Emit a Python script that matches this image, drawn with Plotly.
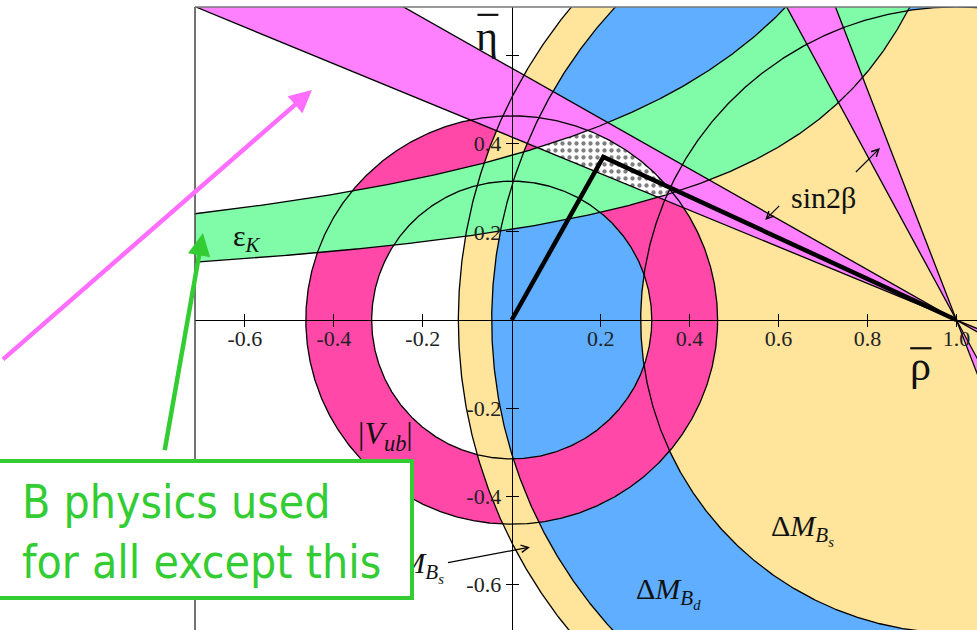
import numpy as np
import plotly.graph_objects as go

# ---- axis ticks -------------------------------------------------------------
rho_ticks = [-0.6, -0.4, -0.2, 0.2, 0.4, 0.6, 0.8, 1.0]
rho_labels = ["-0.6", "-0.4", "-0.2", "0.2", "0.4", "0.6", "0.8", "1.0"]
eta_ticks = [-0.6, -0.4, -0.2, 0.2, 0.4, 0.6]
eta_labels = ["-0.6", "-0.4", "-0.2", "0.2", "0.4", ""]

# ---- constraint bands in the (rho, eta) plane --------------------------------
vub_radii = [0.315, 0.463]        # |Vub/Vcb| ring around (0, 0)
dmd_radii = [0.71, 1.045]         # Delta M_Bd ring around (1, 0)
dms_radius = [1.12]               # Delta M_Bs bound around (1, 0)
epsk_c = [0.259, 0.485]           # epsilon_K hyperbolae: eta = c / (d - rho)
epsk_d = [1.26, 1.30]
sin2b_slopes = [0.415, 0.571]     # beta solution: eta = s * (1 - rho)
sin2b_alt_slopes = [1.86, 2.61]   # pi/2 - beta solution
apex = [0.206, 0.370]             # fitted triangle apex

# ---- colours -----------------------------------------------------------------
C_YELLOW = "#FFE49C"
C_BLUE = "#5FAEFF"
C_PINK = "#FF48A8"
C_GREEN = "#80FCA8"
C_MAGENTA = "#FF80FF"
C_ANNOT = "rgb(51,204,51)"

X0, X1 = -0.7122, 1.0463
Y0, Y1 = -0.7029, 0.7098
SERIF = "Liberation Serif, Times New Roman, serif"


def circle(cx, r, n=1441):
    t = np.linspace(0.0, 2.0 * np.pi, n)
    return cx + r * np.cos(t), r * np.sin(t)


def ring(cx, r_in, r_out):
    xo, yo = circle(cx, r_out)
    xi, yi = circle(cx, r_in)
    return np.r_[xo, xi[::-1]], np.r_[yo, yi[::-1]]


def fill(x, y, color, **kw):
    return go.Scatter(x=x, y=y, mode="lines", fill="toself", fillcolor=color,
                      line=dict(width=0, color=color), hoverinfo="skip", **kw)


def outline(x, y, width=1.3):
    return go.Scatter(x=x, y=y, mode="lines", line=dict(color="black", width=width),
                      hoverinfo="skip")


fig = go.Figure()

# Delta M_Bs disk, Delta M_Bd ring, |Vub| ring, then the outer Delta M_Bs strip
x, y = circle(1.0, dms_radius[0])
fig.add_trace(fill(x, y, C_YELLOW))
x, y = ring(1.0, dmd_radii[0], dmd_radii[1])
fig.add_trace(fill(x, y, C_BLUE))
x, y = ring(0.0, vub_radii[0], vub_radii[1])
fig.add_trace(fill(x, y, C_PINK))
x, y = ring(1.0, dmd_radii[1], dms_radius[0])
fig.add_trace(fill(x, y, C_YELLOW))

# epsilon_K band
eta_cut = 0.85
r_lo = np.linspace(-0.9, epsk_d[0] - epsk_c[0] / eta_cut, 600)
r_hi = np.linspace(-0.9, epsk_d[1] - epsk_c[1] / eta_cut, 600)
e_lo = epsk_c[0] / (epsk_d[0] - r_lo)
e_hi = epsk_c[1] / (epsk_d[1] - r_hi)
fig.add_trace(fill(np.r_[r_lo, r_hi[::-1]], np.r_[e_lo, e_hi[::-1]], C_GREEN))

# sin 2beta wedges (both solutions), drawn on both sides of (1, 0)
rl, rr = -0.9, 1.2
s0, s1 = sin2b_slopes
fig.add_trace(fill([1, rl, rl, 1], [0, s0 * (1 - rl), s1 * (1 - rl), 0], C_MAGENTA))
fig.add_trace(fill([1, rr, rr, 1], [0, s0 * (1 - rr), s1 * (1 - rr), 0], C_MAGENTA))
a0, a1 = sin2b_alt_slopes
h = 0.9
fig.add_trace(fill([1, 1 - h / a0, 1 - h / a1, 1], [0, h, h, 0], C_MAGENTA))
fig.add_trace(fill([1, 1 + h / a0, 1 + h / a1, 1], [0, -h, -h, 0], C_MAGENTA))

# region allowed by every constraint
r = np.linspace(-0.2, 0.7, 4001)
neg = np.full_like(r, -9.0)
vo = np.where(r ** 2 < vub_radii[1] ** 2, np.sqrt(np.clip(vub_radii[1] ** 2 - r ** 2, 0, None)), neg)
vi = np.where(r ** 2 < vub_radii[0] ** 2, np.sqrt(np.clip(vub_radii[0] ** 2 - r ** 2, 0, None)), 0.0)
do = np.sqrt(np.clip(dmd_radii[1] ** 2 - (1 - r) ** 2, 0, None))
di = np.where((1 - r) ** 2 < dmd_radii[0] ** 2,
              np.sqrt(np.clip(dmd_radii[0] ** 2 - (1 - r) ** 2, 0, None)), 0.0)
top = np.minimum.reduce([s1 * (1 - r), epsk_c[1] / (epsk_d[1] - r), vo, do])
bot = np.maximum.reduce([s0 * (1 - r), epsk_c[0] / (epsk_d[0] - r), vi, di])
ok = top > bot
fig.add_trace(go.Scatter(
    x=np.r_[r[ok], r[ok][::-1]], y=np.r_[top[ok], bot[ok][::-1]],
    mode="lines", fill="toself", fillcolor="white", line=dict(width=0),
    fillpattern=dict(shape=".", fgcolor="black", bgcolor="white", size=7, solidity=0.3),
    hoverinfo="skip"))

# band edges
for rad in vub_radii:
    fig.add_trace(outline(*circle(0.0, rad)))
for rad in dmd_radii + dms_radius:
    fig.add_trace(outline(*circle(1.0, rad)))
fig.add_trace(outline(r_lo, e_lo))
fig.add_trace(outline(r_hi, e_hi))
for s in sin2b_slopes:
    fig.add_trace(outline([rl, rr], [s * (1 - rl), s * (1 - rr)]))
for a in sin2b_alt_slopes:
    fig.add_trace(outline([1 - h / a, 1 + h / a], [h, -h]))

# unitarity triangle (on the overlaid axes that carry the crossing ticks)
fig.add_trace(go.Scatter(x=[0, apex[0], 1], y=[0, apex[1], 0], mode="lines",
                         line=dict(color="black", width=4.5), hoverinfo="skip",
                         xaxis="x2", yaxis="y2"))

# ---- axes through the origin --------------------------------------------------
px0 = (0 - X0) / (X1 - X0)
py0 = (0 - Y0) / (Y1 - Y0)
tick_font = dict(family=SERIF, size=22, color="#222")
common = dict(showgrid=False, zeroline=False, fixedrange=True)

# overbars of the axis symbols
bar = dict(type="line", xref="x", yref="y", line=dict(color="#111", width=2.2), layer="above")
overbars = [
    dict(bar, x0=-0.077, x1=-0.030, y0=0.692, y1=0.692),
    dict(bar, x0=0.896, x1=0.944, y0=-0.064, y1=-0.064),
]

fig.update_layout(
    width=977, height=630,
    margin=dict(l=195, r=0, t=7, b=0, pad=0),
    paper_bgcolor="white", plot_bgcolor="white", showlegend=False,
    xaxis=dict(range=[X0, X1], anchor="free", position=py0, showline=True,
               linecolor="black", linewidth=1.3, ticks="outside", ticklen=6,
               tickwidth=1.3, tickcolor="black", tickvals=rho_ticks,
               ticktext=rho_labels, tickfont=tick_font, ticklabelstandoff=-8,
               **common),
    yaxis=dict(range=[Y0, Y1], anchor="free", position=px0, showline=True,
               linecolor="black", linewidth=1.3, ticks="outside", ticklen=6,
               tickwidth=1.3, tickcolor="black", tickvals=eta_ticks,
               ticktext=eta_labels, tickfont=tick_font, **common),
    xaxis2=dict(range=[X0, X1], overlaying="x", anchor="free", position=py0,
                ticks="inside", ticklen=6, tickwidth=1.3, tickcolor="black",
                tickvals=rho_ticks, showticklabels=False, showline=False, **common),
    yaxis2=dict(range=[Y0, Y1], overlaying="y", anchor="free", position=px0,
                ticks="inside", ticklen=6, tickwidth=1.3, tickcolor="black",
                tickvals=eta_ticks, showticklabels=False, showline=False, **common),
    shapes=[
        dict(type="line", xref="paper", yref="paper", x0=0, x1=0, y0=0, y1=1,
             line=dict(color="#444", width=1.5), layer="above"),
        dict(type="line", xref="paper", yref="paper", x0=0, x1=1, y0=1, y1=1,
             line=dict(color="#777", width=1.5), layer="above"),
    ] + overbars,
)

# ---- labels -------------------------------------------------------------------
def label(text, x, y, size=30, **kw):
    fig.add_annotation(text=text, x=x, y=y, xref="x", yref="y", showarrow=False,
                       xanchor="center", yanchor="middle",
                       font=dict(family=SERIF, size=size, color="#111"), **kw)


def pointer(x, y, ax, ay, color="black", width=1.2, head=5, size=1.2, xref="x", yref="y"):
    fig.add_annotation(text=" ", x=x, y=y, xref=xref, yref=yref, ax=ax, ay=ay,
                       showarrow=True, arrowcolor=color, arrowwidth=width,
                       arrowhead=head, arrowsize=size, standoff=0, startstandoff=0)


label("\u03b7", -0.0555, 0.645, size=42)
label("\u03c1", 0.920, -0.104, size=42)
label("sin2\u03b2", 0.700, 0.277)
pointer(0.828, 0.390, -27, 27)
pointer(0.570, 0.227, 17, -17)
label("\u03b5<sub><i>K</i></sub>", -0.595, 0.186)
label("\u0394<i>M</i><sub><i>B<sub>s</sub></i></sub>", 0.653, -0.476)
label("\u0394<i>M</i><sub><i>B<sub>d</sub></i></sub>", 0.352, -0.617)
label("|<i>V</i><sub><i>ub</i></sub>|", -0.283, -0.262, size=32)
label("\u0394<i>M</i><sub><i>B<sub>s</sub></i></sub>", -0.224, -0.558)
pointer(0.041, -0.515, -85, 16)

# callouts in the left margin
pointer(0.1496, 0.8668, -312, 272, color="#FF6EFF", width=4.5, head=2, size=1.0,
        xref="paper", yref="paper")
pointer(0.0102, 0.6372, -40, 227, color=C_ANNOT, width=4.5, head=2, size=1.0,
        xref="paper", yref="paper")
fig.add_annotation(text=" ", x=0.00767, y=0.1618, xref="paper", yref="paper",
                   xanchor="center", yanchor="middle",
                   showarrow=False, width=418, height=133, borderpad=0,
                   bordercolor=C_ANNOT, borderwidth=4, bgcolor="white")
fig.add_annotation(text="B physics used<br>for all except this", x=-0.2238, y=0.1573,
                   xref="paper", yref="paper", xanchor="left", yanchor="middle",
                   align="left", showarrow=False,
                   font=dict(family="DejaVu Sans Condensed, DejaVu Sans", size=46,
                             color=C_ANNOT))

fig.write_html("out.html")
